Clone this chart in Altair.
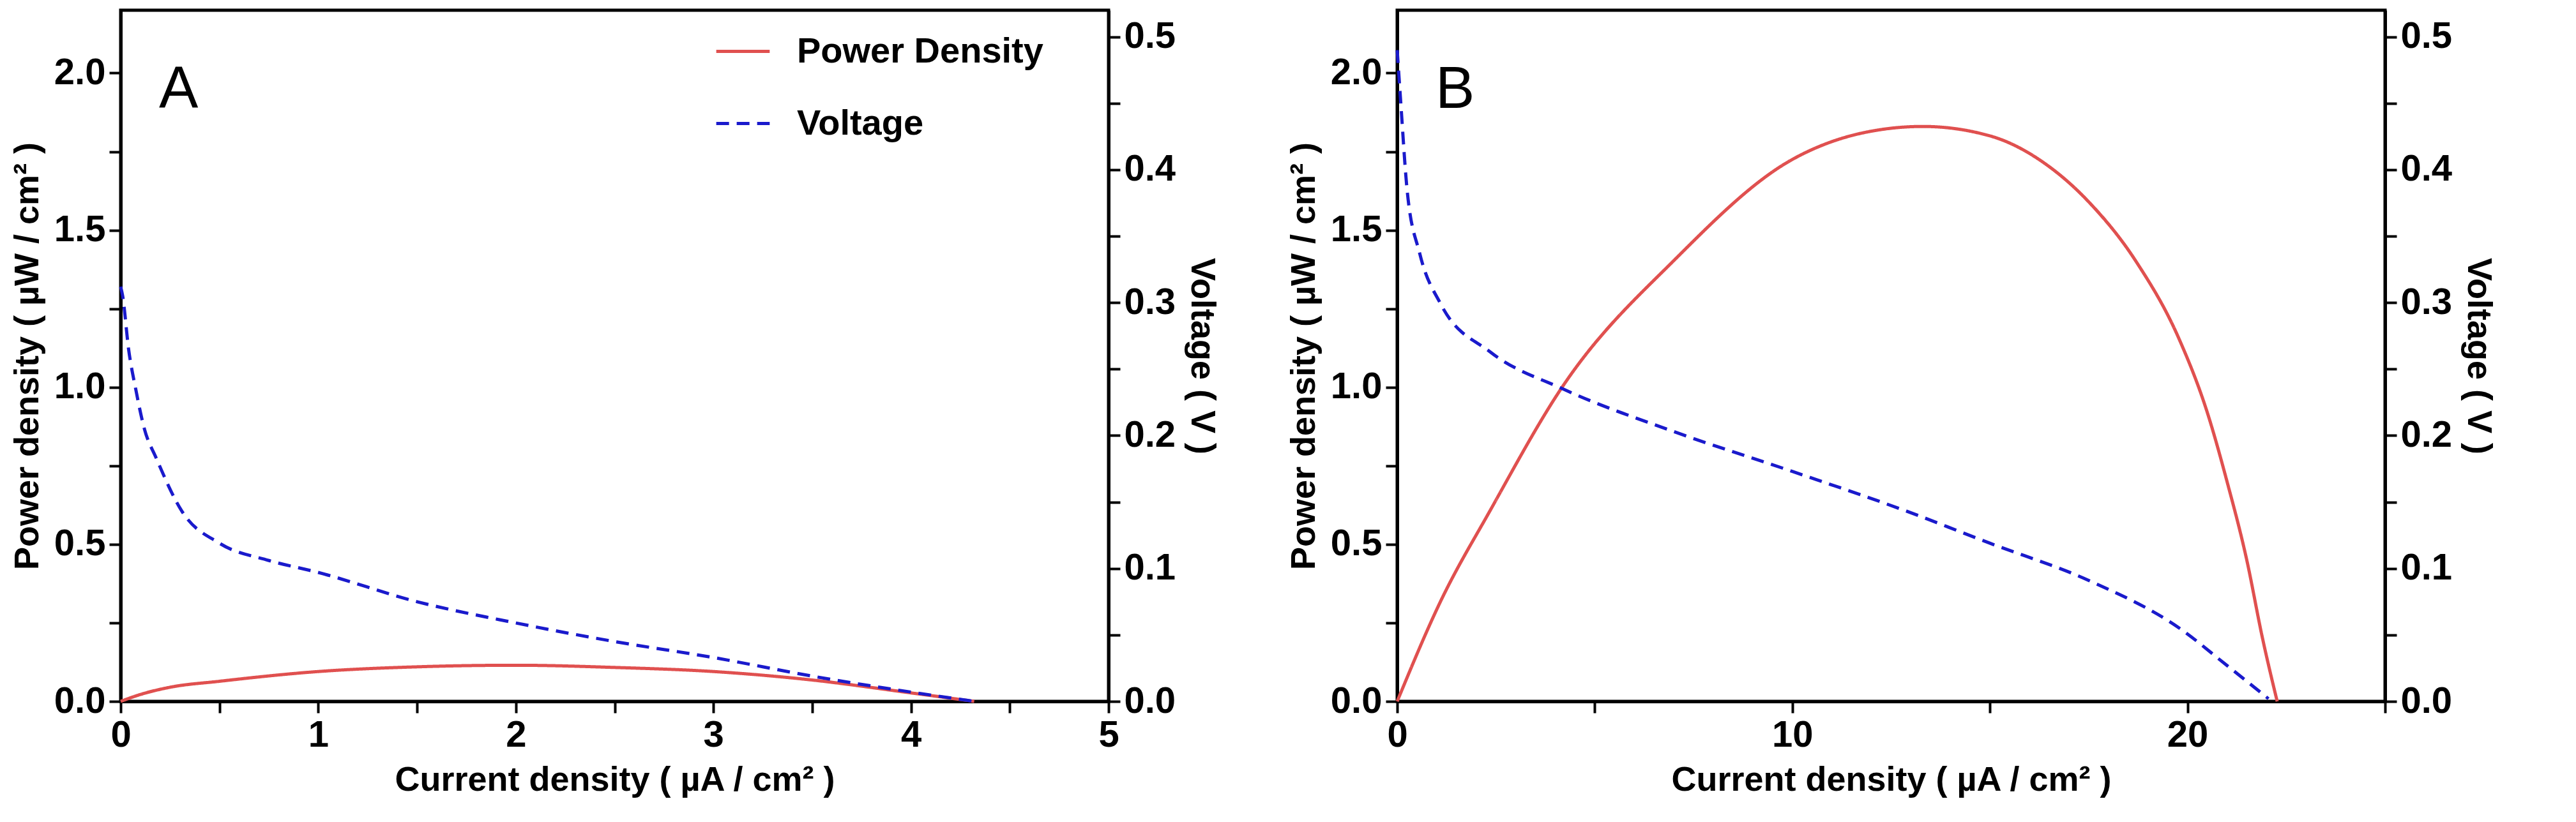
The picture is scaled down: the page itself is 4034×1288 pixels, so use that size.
import pandas as pd
import altair as alt

# Panel A
a_v_x = [0.0, 0.01, 0.04, 0.076, 0.12, 0.18, 0.31, 0.5, 0.75, 1.0, 1.5, 2.0, 2.5, 3.0, 3.5, 4.0, 4.32]
a_v_y = [0.312, 0.305, 0.265, 0.235, 0.205, 0.183, 0.143, 0.119, 0.106, 0.097, 0.075, 0.059, 0.045, 0.033, 0.019, 0.007, 0.0]
a_p_x = [0.0, 0.1, 0.25, 0.5, 1.0, 1.5, 2.0, 2.5, 3.0, 3.5, 4.0, 4.32]
a_p_y = [0.0, 0.022, 0.045, 0.064, 0.095, 0.11, 0.115, 0.108, 0.095, 0.068, 0.027, 0.0]

# Panel B
b_v_x = [0.0, 0.08, 0.25, 0.57, 1.1, 2.35, 4.2, 7.0, 10.0, 12.9, 15.0, 17.5, 19.8, 21.0, 22.05]
b_v_y = [0.49, 0.455, 0.385, 0.337, 0.299, 0.263, 0.235, 0.203, 0.173, 0.143, 0.119, 0.091, 0.055, 0.027, 0.002]
b_p_x = [0.0, 1.1, 2.35, 4.2, 7.0, 10.0, 11.8, 13.3, 15.0, 16.3, 17.5, 18.7, 19.8, 20.5, 21.0, 21.5, 21.9, 22.27]
b_p_y = [0.0, 0.319, 0.607, 1.005, 1.403, 1.725, 1.81, 1.83, 1.80, 1.72, 1.59, 1.40, 1.15, 0.92, 0.70, 0.45, 0.2, 0.0]

RED = "#e0504f"
BLUE = "#1a1acc"
series = ["Power Density", "Voltage"]
FONT = "Liberation Sans"


def panel(letter, vx, vy, px, py, xmax, xmajor, xminor):
    dv = pd.DataFrame({"x": vx, "y": vy, "s": "Voltage"})
    dp = pd.DataFrame({"x": px, "y": py, "s": "Power Density"})
    xticks = [i * xminor for i in range(int(round(xmax / xminor)) + 1)]
    x = alt.X("x:Q", scale=alt.Scale(domain=[0, xmax], nice=False),
              axis=alt.Axis(title="Current density ( µA / cm² )", values=xticks,
                            labelExpr=f"datum.value % {xmajor} == 0 ? format(datum.value, 'd') : ''"))
    color = alt.Color("s:N", scale=alt.Scale(domain=series, range=[RED, BLUE]),
                      legend=alt.Legend(title=None, orient="none", legendX=930, legendY=20,
                                        symbolType="stroke", symbolSize=7000, symbolStrokeWidth=5,
                                        labelFontSize=56, labelFont=FONT, labelFontWeight="bold",
                                        labelOffset=40, rowPadding=40, labelLimit=600))
    dash = alt.StrokeDash("s:N", scale=alt.Scale(domain=series, range=[[1, 0], [20, 12]]), legend=None)
    left_ticks = [i * 0.25 for i in range(9)]
    right_ticks = [round(i * 0.05, 2) for i in range(11)]
    p_line = alt.Chart(dp).mark_line(strokeWidth=5, interpolate="monotone").encode(
        x=x,
        y=alt.Y("y:Q", scale=alt.Scale(domain=[0, 2.2], nice=False),
                axis=alt.Axis(title="Power density ( µW / cm² )", values=left_ticks,
                              labelExpr="datum.value % 0.5 == 0 ? format(datum.value, '.1f') : ''")),
        color=color, strokeDash=dash)
    v_line = alt.Chart(dv).mark_line(strokeWidth=5, interpolate="monotone").encode(
        x=x,
        y=alt.Y("y:Q", scale=alt.Scale(domain=[0, 0.52], nice=False),
                axis=alt.Axis(title="Voltage ( V )", orient="right", values=right_ticks,
                              labelExpr="round(datum.value * 100) % 10 == 0 ? format(datum.value, '.1f') : ''")),
        color=color, strokeDash=dash)
    label = alt.Chart(pd.DataFrame({"t": [letter]})).mark_text(
        fontSize=92, font=FONT, align="left", baseline="middle").encode(
        x=alt.value(60), y=alt.value(125), text="t:N")
    return alt.layer(p_line, v_line, label).resolve_scale(y="independent").properties(
        width=1547, height=1083)


a = panel("A", a_v_x, a_v_y, a_p_x, a_p_y, 5, 1, 0.5)
b = panel("B", b_v_x, b_v_y, b_p_x, b_p_y, 25, 10, 5)

chart = alt.hconcat(a, b, spacing=100, background="white").configure_view(
    stroke="black", strokeWidth=5
).configure_axis(
    grid=False, domainColor="black", domainWidth=5, tickColor="black", tickWidth=4, tickSize=18,
    labelFont=FONT, labelFontSize=58, labelFontWeight="bold", labelColor="black", labelPadding=6,
    titleFont=FONT, titleFontSize=54, titleFontWeight="bold", titleColor="black", titlePadding=14,
    labelFlush=False, labelOverlap=False
)

chart.save("out.html", embed_options={"renderer": "svg", "actions": False})
